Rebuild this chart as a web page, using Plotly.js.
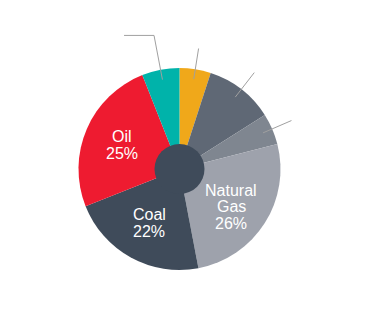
<!DOCTYPE html>
<html><head><meta charset="utf-8">
<script src="https://cdn.plot.ly/plotly-3.0.1.min.js"></script>
<style>html,body{margin:0;padding:0;background:#fff}#c{width:377px;height:317px}</style>
</head><body><div id="c"></div>
<script>
const categories = ["Other A", "Other B", "Other C", "Natural Gas", "Coal", "Oil", "Other D"];
const values = [5, 11, 5, 26, 22, 25, 6];
const colors = ["#F0A81A", "#5F6875", "#7F8690", "#9EA2AC", "#3F4B5A", "#EE1B30", "#00B3AA"];
const labelLines = [null, null, null, ["Natural", "Gas", "26%"], ["Coal", "22%"], ["Oil", "25%"], null];
const leaders = [true, true, true, false, false, false, true];

// style: small nudges of label blocks, in pixels
const labelNudge = {3: [-1.5, 4], 4: [0, -1.5], 5: [0, 1]};

const W = 377, H = 317;
const cx = 179.5, cy = 169, R = 101;
const px = x => x / W, py = y => 1 - y / H;

const total = values.reduce((a, b) => a + b, 0);
const shapes = [], annotations = [];
let cum = 0;
values.forEach((v, i) => {
  const mid = (cum + v / 2) / total * 2 * Math.PI;
  cum += v;
  const dx = Math.sin(mid), dy = -Math.cos(mid);
  if (leaders[i]) {
    const r0 = 91, r1 = (i === 6) ? 136 : 122;
    const x0 = cx + dx * r0, y0 = cy + dy * r0, x1 = cx + dx * r1, y1 = cy + dy * r1;
    shapes.push({type: "line", xref: "paper", yref: "paper", x0: px(x0), y0: py(y0), x1: px(x1), y1: py(y1),
      line: {color: "#A0A0A0", width: 1}});
    if (i === 6) {
      shapes.push({type: "line", xref: "paper", yref: "paper", x0: px(x1), y0: py(y1), x1: px(x1 - 30), y1: py(y1),
        line: {color: "#A0A0A0", width: 1}});
    }
  }
  if (labelLines[i]) {
    const lines = labelLines[i];
    const nud = labelNudge[i] || [0, 0];
    const tx = cx + dx * 63 + nud[0], ty = cy + dy * 63 + nud[1];
    const lh = 16.7;
    lines.forEach((t, k) => {
      const yy = ty + (k - (lines.length - 1) / 2) * lh;
      annotations.push({xref: "paper", yref: "paper", x: px(tx), y: py(yy), text: t, showarrow: false,
        xanchor: "center", yanchor: "middle", font: {family: "Liberation Sans, Arial, sans-serif", size: 16, color: "#FFFFFF"}});
    });
  }
});
// centre disc
const hr = 25;
shapes.push({type: "circle", xref: "paper", yref: "paper", x0: px(cx - hr), x1: px(cx + hr), y0: py(cy + hr), y1: py(cy - hr),
  fillcolor: "#3F4B5A", line: {width: 0}, layer: "above"});

const trace = {
  type: "pie", labels: categories, values: values, sort: false, direction: "clockwise", rotation: 0,
  marker: {colors: colors, line: {width: 0}}, textinfo: "none", hoverinfo: "none", showlegend: false,
  domain: {x: [px(cx - R), px(cx + R)], y: [py(cy + R), py(cy - R)]}
};
Plotly.newPlot("c", [trace], {
  width: W, height: H, margin: {l: 0, r: 0, t: 0, b: 0}, paper_bgcolor: "#fff", plot_bgcolor: "#fff",
  showlegend: false, shapes: shapes, annotations: annotations
}, {staticPlot: true});
</script></body></html>
